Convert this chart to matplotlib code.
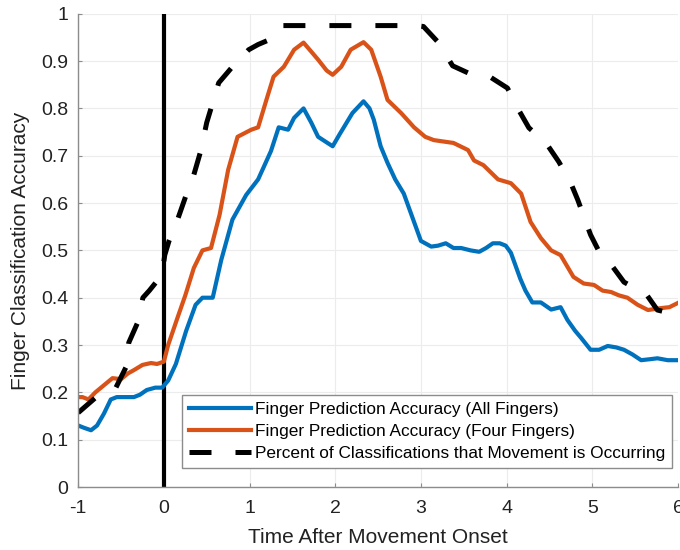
import numpy as np
import matplotlib.pyplot as plt

plt.rcParams['font.family'] = ['Liberation Sans', 'DejaVu Sans']
plt.rcParams['axes.unicode_minus'] = False

# accuracy curves (time in s relative to movement onset)
t_all = [-1.0, -0.93, -0.85, -0.78, -0.7, -0.62, -0.55, -0.45, -0.35, -0.28, -0.2, -0.1,
         -0.02, 0.05, 0.14, 0.26, 0.37, 0.45, 0.57, 0.67, 0.8, 0.96, 1.1, 1.25, 1.34, 1.45,
         1.52, 1.63, 1.72, 1.8, 1.91, 1.97, 2.05, 2.1, 2.2, 2.33, 2.4, 2.45, 2.53, 2.61,
         2.7, 2.8, 2.9, 3.0, 3.12, 3.2, 3.29, 3.38, 3.47, 3.58, 3.68, 3.76, 3.84, 3.92,
         3.99, 4.05, 4.1, 4.16, 4.22, 4.3, 4.4, 4.52, 4.63, 4.71, 4.8, 4.87, 4.98, 5.08,
         5.18, 5.28, 5.37, 5.47, 5.57, 5.67, 5.76, 5.88, 6.0]
acc_all = [0.13, 0.125, 0.12, 0.13, 0.155, 0.185, 0.19, 0.19, 0.19, 0.195, 0.205, 0.21,
           0.21, 0.225, 0.26, 0.33, 0.385, 0.4, 0.4, 0.48, 0.565, 0.617, 0.65, 0.71, 0.76, 0.755,
           0.78, 0.80, 0.77, 0.74, 0.727, 0.72, 0.745, 0.76, 0.79, 0.815, 0.8, 0.776, 0.72, 0.685,
           0.65, 0.62, 0.57, 0.52, 0.508, 0.51, 0.515, 0.505, 0.505, 0.5, 0.497, 0.505, 0.515, 0.515,
           0.51, 0.495, 0.47, 0.44, 0.415, 0.39, 0.39, 0.375, 0.38, 0.353, 0.33, 0.315, 0.29, 0.29,
           0.298, 0.295, 0.29, 0.28, 0.268, 0.27, 0.272, 0.268, 0.268]

t_four = [-1.0, -0.95, -0.88, -0.8, -0.7, -0.6, -0.5, -0.42, -0.35, -0.25, -0.15, -0.08,
          0.0, 0.05, 0.15, 0.25, 0.35, 0.45, 0.55, 0.65, 0.75, 0.86, 1.02, 1.1, 1.2, 1.28,
          1.4, 1.52, 1.63, 1.72, 1.8, 1.9, 1.97, 2.07, 2.18, 2.33, 2.42, 2.53, 2.61, 2.77,
          2.92, 3.05, 3.15, 3.38, 3.55, 3.62, 3.73, 3.9, 4.05, 4.17, 4.28, 4.4, 4.52, 4.63,
          4.78, 4.9, 5.02, 5.12, 5.22, 5.31, 5.41, 5.53, 5.65, 5.8, 5.9, 6.0]
acc_four = [0.19, 0.19, 0.185, 0.2, 0.215, 0.23, 0.228, 0.24, 0.247, 0.258, 0.262, 0.26,
            0.265, 0.3, 0.353, 0.405, 0.463, 0.5, 0.505, 0.575, 0.67, 0.74, 0.755, 0.76, 0.82, 0.867,
            0.888, 0.924, 0.939, 0.92, 0.903, 0.88, 0.871, 0.888, 0.924, 0.94, 0.924, 0.867, 0.818, 0.79,
            0.76, 0.74, 0.733, 0.727, 0.712, 0.69, 0.68, 0.65, 0.642, 0.62, 0.56, 0.526, 0.5, 0.49,
            0.444, 0.43, 0.427, 0.415, 0.412, 0.405, 0.4, 0.385, 0.374, 0.378, 0.38, 0.389]

t_move = [-1.0, -0.79, -0.56, -0.44, -0.41, -0.3, -0.245, -0.17, -0.09, -0.02, 0.01, 0.06,
          0.15, 0.26, 0.35, 0.43, 0.5, 0.55, 0.64, 0.8, 0.99, 1.1, 1.23, 1.35, 2.95, 3.03,
          3.2, 3.37, 3.55, 3.82, 4.01, 4.14, 4.26, 4.46, 4.61, 4.75, 4.83, 4.98, 5.1, 5.24,
          5.37, 5.5, 5.62, 5.76, 5.85, 6.0]
pct_move = [0.157, 0.19, 0.21, 0.254, 0.305, 0.35, 0.40, 0.415, 0.433, 0.45, 0.49, 0.52,
            0.56, 0.617, 0.66, 0.71, 0.77, 0.8, 0.854, 0.888, 0.924, 0.935, 0.945, 0.975, 0.975, 0.973,
            0.94, 0.89, 0.875, 0.865, 0.843, 0.797, 0.759, 0.727, 0.687, 0.642, 0.607, 0.533, 0.49, 0.465,
            0.433, 0.42, 0.41, 0.374, 0.37, 0.365]

labels = ['Finger Prediction Accuracy (All Fingers)',
          'Finger Prediction Accuracy (Four Fingers)',
          'Percent of Classifications that Movement is Occurring']

fig = plt.figure(figsize=(6.8, 5.5), dpi=100)
ax = fig.add_axes([0.115, 0.1145, 0.882, 0.8605])

ax.plot(t_all, acc_all, color='#0072BD', lw=3, label=labels[0])
ax.plot(t_four, acc_four, color='#D95319', lw=3, label=labels[1])
ax.plot(t_move, pct_move, color='black', lw=3.6, linestyle=(0, (4.4, 4.8)),
        dash_capstyle='butt', label=labels[2])
ax.axvline(0, color='black', lw=3, zorder=1)

ax.set_xlim(-1, 6)
ax.set_ylim(0, 1)
ax.set_xticks(np.arange(-1, 7))
ax.set_yticks(np.round(np.arange(0, 1.01, 0.1), 1))
ax.set_yticklabels(['0', '0.1', '0.2', '0.3', '0.4', '0.5', '0.6', '0.7', '0.8', '0.9', '1'])
ax.grid(True, color='#ececec', lw=0.8)
ax.set_axisbelow(True)

for side in ['top', 'right']:
    ax.spines[side].set_visible(False)
for side in ['left', 'bottom']:
    ax.spines[side].set_color('#8c8c8c')
    ax.spines[side].set_linewidth(1)
ax.tick_params(direction='in', length=3, color='#8c8c8c', labelsize=14, labelcolor='#222222')
ax.tick_params(axis='x', pad=9)
ax.tick_params(axis='y', pad=7)

ax.set_xlabel('Time After Movement Onset', fontsize=15, color='#222222', labelpad=8)
ax.set_ylabel('Finger Classification Accuracy', fontsize=15, color='#222222', labelpad=8)

leg = ax.legend(loc='lower right', bbox_to_anchor=(0.99, 0.04), borderaxespad=0,
                fontsize=12.4, handlelength=3.6, handletextpad=0.25, fancybox=False,
                framealpha=1, edgecolor='#8c8c8c', labelspacing=0.42, borderpad=0.4)
leg.get_frame().set_linewidth(1)

fig.savefig('out.png', dpi=100)
